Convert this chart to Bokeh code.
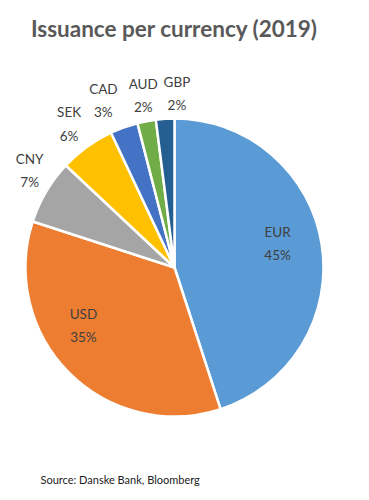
import numpy as np
from bokeh.plotting import figure
from bokeh.models import Range1d, ColumnDataSource
from bokeh.core.properties import value
from bokeh.embed import file_html
from bokeh.resources import INLINE

title = "Issuance per currency (2019)"
source_note = "Source: Danske Bank, Bloomberg"
currencies = ["EUR", "USD", "CNY", "SEK", "CAD", "AUD", "GBP"]
shares = [45, 35, 7, 6, 3, 2, 2]
colors = ["#5B9BD5", "#ED7D31", "#A5A5A5", "#FFC000", "#4472C4", "#70AD47", "#255E91"]
# label placement style: radius fraction and angular nudge (degrees)
label_r = [0.71, 0.725, 1.17, 1.195, 1.217, 1.174, 1.169]
label_nudge = [4.0, -12.5, -3.2, 0.3, 3.3, -0.5, -4.4]

W, H = 361, 492
cx, cy, R = 174, H - 267, 149

p = figure(width=W, height=H, output_backend="svg", toolbar_location=None,
           x_range=Range1d(0, W), y_range=Range1d(0, H), min_border=0)
p.axis.visible = False
p.grid.visible = False
p.outline_line_color = None

frac = np.array(shares, dtype=float) / sum(shares)
cum = np.cumsum(frac)
prev = np.concatenate([[0], cum[:-1]])
start = np.pi / 2 - prev * 2 * np.pi
end = np.pi / 2 - cum * 2 * np.pi
mid = (start + end) / 2 + np.radians(label_nudge)

src = ColumnDataSource(dict(start=start, end=end, color=colors))
p.wedge(x=cx, y=cy, radius=R, start_angle="start", end_angle="end",
        direction="clock", fill_color="color", line_color="white",
        line_width=2.5, source=src)

lx = cx + np.array(label_r) * R * np.cos(mid)
ly = cy + np.array(label_r) * R * np.sin(mid)
labels = [f"{c}\n{s}%" for c, s in zip(currencies, shares)]
p.text(x=lx, y=ly, text=labels, text_align="center", text_baseline="middle",
       text_font=value("Lato"), text_font_size="13.5px", text_color="#404040",
       text_line_height=1.45)

p.text(x=[174], y=[H - 28], text=[title], text_align="center",
       text_baseline="alphabetic", text_font=value("Lato"), text_font_style="bold",
       text_font_size="22.5px", text_color="#595959")
p.text(x=[40], y=[H - 479], text=[source_note], text_align="left",
       text_baseline="middle", text_font=value("Lato"), text_font_size="11px",
       text_color="#222222")

open("out.html", "w").write(file_html(p, INLINE))
